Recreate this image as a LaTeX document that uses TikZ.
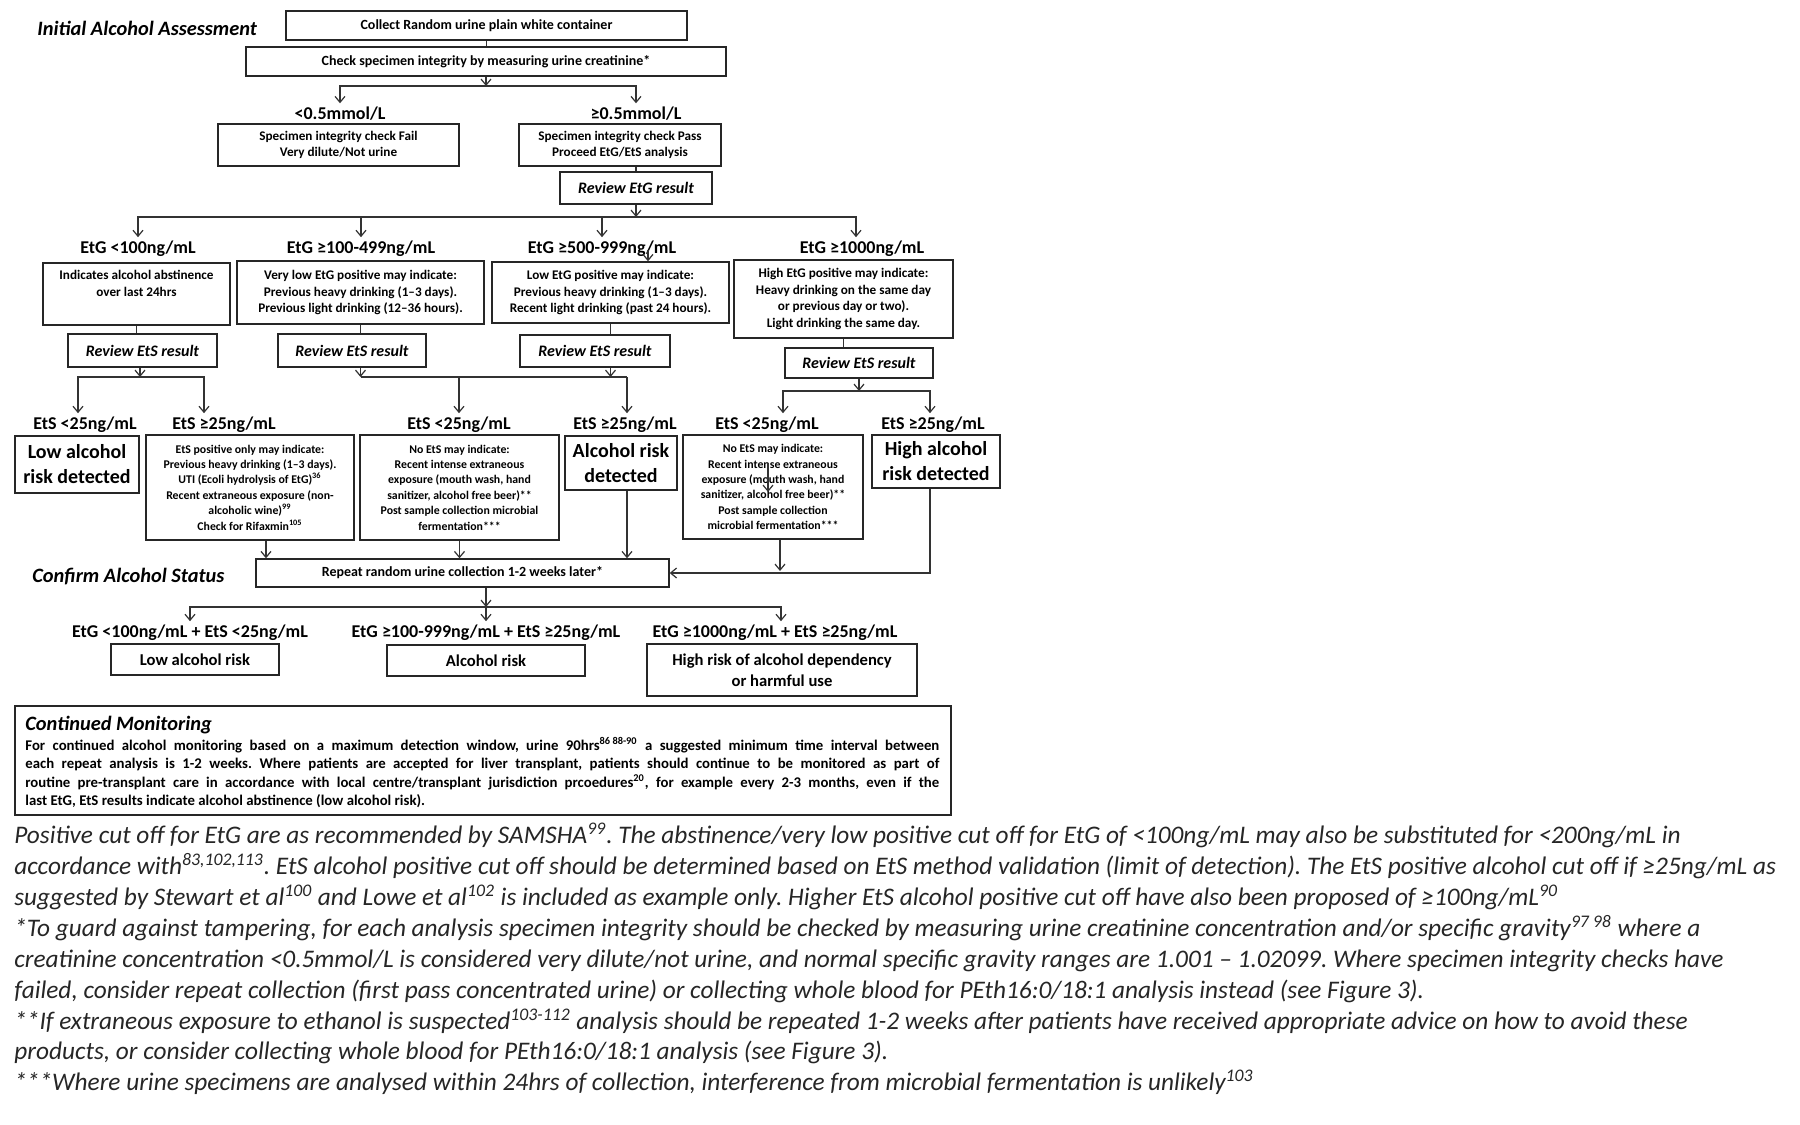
\documentclass[tikz,border=0pt]{standalone}
\usepackage{fontspec}
\setmainfont{Carlito}
\usetikzlibrary{arrows.meta}
\frenchspacing
\newcommand\ftitle{\fontsize{10.2}{12}\selectfont\bfseries\itshape}
\newcommand\fsm{\fontsize{7}{8.5}\selectfont\bfseries}
\newcommand\fxs{\fontsize{6.6}{8.3}\selectfont\bfseries}
\newcommand\fxxs{\fontsize{5.9}{7.7}\selectfont\bfseries}
\newcommand\flab{\fontsize{9}{11}\selectfont\bfseries}
\newcommand\frev{\fontsize{8}{10}\selectfont\bfseries\itshape}
\newcommand\fbig{\fontsize{10}{12.5}\selectfont\bfseries}
\newcommand\fmid{\fontsize{8.3}{10.5}\selectfont\bfseries}
\newcommand\fbody{\fontsize{7.4}{9.2}\selectfont\bfseries}
\newcommand\fnote{\fontsize{12.65}{15.5}\selectfont\itshape}
\tikzset{
  box/.style={draw=black!85, line width=0.7pt, inner sep=1pt, align=center, text=black},
  ln/.style={draw=black!80, line width=0.6pt},
  arr/.style={ln, -{Straight Barb[length=3pt,width=5pt]}},
  lbl/.style={font=\flab, inner sep=0pt, outer sep=2pt},
  sect/.style={font=\ftitle, inner sep=0pt, anchor=west},
  note/.style={font=\fnote, inner sep=0pt, anchor=base west, text=black!85},
}
\begin{document}
\begin{tikzpicture}[x=0.5pt,y=-0.5pt]
\fill[white] (0,0) rectangle (1800,1125);
\useasboundingbox (0,0) rectangle (1800,1125);

% ---------- Initial assessment ----------
\node[sect] (t1) at (37,28) {Initial Alcohol Assessment};
\node[box, font=\fsm, minimum width=200.5pt, minimum height=14.5pt] (b1) at (486.5,25.5) {Collect Random urine plain white container};
\node[box, font=\fsm, minimum width=240pt, minimum height=14.5pt] (b2) at (486,61.5) {Check specimen integrity by measuring urine creatinine*};
\node[lbl] (lowc) at (340,114) {<0.5mmol/L};
\node[lbl] (highc) at (636,114) {≥0.5mmol/L};
\node[box, font=\fxs, minimum width=120.5pt, minimum height=21pt] (fail) at (338.5,145) {Specimen integrity check Fail\\Very dilute/Not urine};
\node[box, font=\fxs, minimum width=101pt, minimum height=21pt] (pass) at (620,145) {Specimen integrity check Pass\\Proceed EtG/EtS analysis};
\node[box, font=\frev, minimum width=76pt, minimum height=16pt] (revg) at (636,188) {Review EtG result};

\coordinate (j1) at (486,86);
\draw[ln] (b1.south) -- (b1.south |- b2.north);
\draw[arr] (b2.south) -- (j1);
\draw[arr] (j1) -| (lowc.north);
\draw[arr] (j1) -| (highc.north);
\draw[ln] (revg.north) -- (revg.north |- pass.south);

% ---------- EtG levels ----------
\coordinate (j2) at (636,217);
\node[lbl] (g1) at (138,249) {EtG <100ng/mL};
\node[lbl] (g2) at (361,249) {EtG ≥100-499ng/mL};
\node[lbl] (g3) at (602,249) {EtG ≥500-999ng/mL};
\node[lbl] (g4) at (862,249) {EtG ≥1000ng/mL};
\draw[arr] (revg.south) -- (j2);
\draw[arr] (j2) -| (g1.north);
\draw[arr] (j2) -| (g2.north);
\draw[arr] (j2) -| (g3.north);
\draw[arr] (j2) -| ([xshift=-3pt]g4.north);

\node[box, font=\fxs, minimum width=93.5pt, minimum height=31pt] (bA) at (136.5,294) {Indicates alcohol abstinence\\over last 24hrs\\\strut};
\node[box, font=\fxs, minimum width=123.5pt, minimum height=31.5pt] (bB) at (360.5,292.5) {Very low EtG positive may indicate:\\Previous heavy drinking (1–3 days).\\Previous light drinking (12–36 hours).};
\node[box, font=\fxs, minimum width=118.5pt, minimum height=30.5pt] (bC) at (610.5,292.5) {Low EtG positive may indicate:\\Previous heavy drinking (1–3 days).\\Recent light drinking (past 24 hours).};
\node[box, font=\fxs, minimum width=109.5pt, minimum height=39pt] (bD) at (843.5,299) {High EtG positive may indicate:\\Heavy drinking on the same day\\or previous day or two).\\Light drinking the same day.};
\coordinate (s1) at (648,250);
\draw[arr] (s1) -- (s1 |- bC.north);

% ---------- Review EtS ----------
\node[box, font=\frev, minimum width=74.5pt, minimum height=16.5pt] (r1) at (142.5,350.5) {Review EtS result};
\node[box, font=\frev, minimum width=74pt, minimum height=16.5pt] (r2) at (352,350.5) {Review EtS result};
\node[box, font=\frev, minimum width=75pt, minimum height=16pt] (r3) at (595,351) {Review EtS result};
\node[box, font=\frev, minimum width=74pt, minimum height=15pt] (r4) at (859,363) {Review EtS result};
\draw[ln] (bA.south) -- (bA.south |- r1.north);
\draw[ln] (bB.south) -- (bB.south |- r2.north);
\draw[ln] (bC.south) -- (bC.south |- r3.north);
\draw[ln] (bD.south) -- (bD.south |- r4.north);

% ---------- EtS levels ----------
\node[lbl] (e1) at (85,425) {EtS <25ng/mL};
\node[lbl] (e2) at (224,425) {EtS ≥25ng/mL};
\node[lbl] (e3) at (459,425) {EtS <25ng/mL};
\node[lbl] (e4) at (625,425) {EtS ≥25ng/mL};
\node[lbl] (e5) at (767,425) {EtS <25ng/mL};
\node[lbl] (e6) at (933,425) {EtS ≥25ng/mL};

\coordinate (j3) at (140,377);
\draw[arr] (j3 |- r1.south) -- (j3);
\draw[arr] (j3) -| ([xshift=-3.5pt]e1.north);
\draw[arr] (j3) -| ([xshift=-10pt]e2.north);

\coordinate (j4) at (360.5,377);
\coordinate (j5) at (627,377);
\draw[arr] (bB.south |- r2.south) -- (j4);
\draw[arr] (bC.south |- r3.south) -- (bC.south |- j4);
\draw[ln] (j4) -- (j5);
\draw[arr] (j5) -- (j5 |- e4.north);
\draw[arr] (e3.north |- j4) -- (e3.north);

\coordinate (j6) at (859,391);
\draw[arr] (r4.south) -- (j6);
\draw[arr] (j6) -| ([xshift=8pt]e5.north);
\draw[arr] (j6) -| ([xshift=-1.5pt]e6.north);

\node[box, font=\fbig, minimum width=62pt, minimum height=28.5pt] (lowr) at (77,464.5) {Low alcohol\\risk detected};
\node[box, font=\fxxs, minimum width=104pt, minimum height=52.5pt] (pos) at (250,487.5) {EtS positive only may indicate:\\Previous heavy drinking (1–3 days).\\UTI (Ecoli hydrolysis of EtG)\textsuperscript{36}\\Recent extraneous exposure (non-\\alcoholic wine)\textsuperscript{99}\\Check for Rifaxmin\textsuperscript{105}};
\node[box, font=\fxxs, minimum width=99.5pt, minimum height=52.5pt] (nom) at (459.5,487.5) {No EtS may indicate:\\Recent intense extraneous\\exposure (mouth wash, hand\\sanitizer, alcohol free beer)**\\Post sample collection microbial\\fermentation***};
\node[box, font=\fbig, minimum width=56pt, minimum height=27pt] (alcr) at (621,463) {Alcohol risk\\detected};
\node[box, font=\fxxs, minimum width=90pt, minimum height=52pt] (nor) at (773,487) {No EtS may indicate:\\Recent intense extraneous\\exposure (mouth wash, hand\\sanitizer, alcohol free beer)**\\Post sample collection\\microbial fermentation***};
\node[box, font=\fbig, minimum width=64pt, minimum height=26.5pt] (highr) at (936,461.5) {High alcohol\\risk detected};
\coordinate (s2) at (768,463);
\coordinate (s2b) at (768,492);
\draw[arr] (s2) -- (s2b);

% ---------- Confirm ----------
\node[sect] (t2) at (32,577) {Confirm Alcohol Status};
\node[box, font=\fsm, minimum width=206.5pt, minimum height=14pt] (rep) at (462.5,573) {Repeat random urine collection 1-2 weeks later*};
\coordinate (j7) at (780,571);
\draw[arr] ([xshift=8pt]pos.south) -- ([xshift=8pt]pos.south |- rep.north);
\draw[arr] (nom.south) -- (nom.south |- rep.north);
\draw[arr] ([xshift=3pt]alcr.south) -- ([xshift=3pt]alcr.south |- rep.north);
\draw[arr] ([xshift=3.5pt]nor.south) -- ([xshift=3.5pt]nor.south |- j7);
\draw[arr] ([xshift=-3pt]highr.south) |- (rep.east);

\coordinate (j8) at (486,607);
\node[lbl] (f1) at (190,633) {EtG <100ng/mL + EtS <25ng/mL};
\node[lbl] (f2) at (486,633) {EtG ≥100-999ng/mL + EtS ≥25ng/mL};
\node[lbl] (f3) at (775,633) {EtG ≥1000ng/mL + EtS ≥25ng/mL};
\draw[arr] (j8 |- rep.south) -- (j8);
\draw[arr] (j8) -| (f1.north);
\draw[arr] (j8) -- (f2.north);
\draw[arr] (j8) -| ([xshift=3pt]f3.north);
\node[box, font=\fmid, minimum width=84pt, minimum height=15.5pt] (lowa) at (195,659.5) {Low alcohol risk};
\node[box, font=\fmid, minimum width=99pt, minimum height=15.5pt] (alca) at (486,660.5) {Alcohol risk};
\node[box, font=\fmid, minimum width=135pt, minimum height=26pt] (higha) at (782,670) {High risk of alcohol dependency\\or harmful use};

% ---------- Continued monitoring ----------
\node[box, minimum width=468pt, minimum height=54.5pt] (cont) at (483,760.5) {};
\node[sect] (t3) at (25,725) {Continued Monitoring};
\node[font=\fbody, text width=457pt, align=justify, inner sep=0pt, anchor=north west] (body) at (25,737) {For continued alcohol monitoring based on a maximum detection window, urine 90hrs\textsuperscript{86 88-90} a suggested minimum time interval between\linebreak each repeat analysis is 1-2 weeks. Where patients are accepted for liver transplant, patients should continue to be monitored as part of\linebreak routine pre-transplant care in accordance with local centre/transplant jurisdiction prcoedures\textsuperscript{20}, for example every 2-3 months, even if the\linebreak last EtG, EtS results indicate alcohol abstinence (low alcohol risk).};

% ---------- Notes ----------
\node[note] (n1) at (14,843) {Positive cut off for EtG are as recommended by SAMSHA\textsuperscript{99}. The abstinence/very low positive cut off for EtG of <100ng/mL may also be substituted for <200ng/mL in};
\node[note] (n2) at (14,874) {accordance with\textsuperscript{83,102,113}. EtS alcohol positive cut off should be determined based on EtS method validation (limit of detection). The EtS positive alcohol cut off if ≥25ng/mL as};
\node[note] (n3) at (14,905) {suggested by Stewart et al\textsuperscript{100} and Lowe et al\textsuperscript{102} is included as example only. Higher EtS alcohol positive cut off have also been proposed of ≥100ng/mL\textsuperscript{90}};
\node[note] (n4) at (14,936) {*To guard against tampering, for each analysis specimen integrity should be checked by measuring urine creatinine concentration and/or specific gravity\textsuperscript{97 98} where a};
\node[note] (n5) at (14,967) {creatinine concentration <0.5mmol/L is considered very dilute/not urine, and normal specific gravity ranges are 1.001 – 1.02099. Where specimen integrity checks have};
\node[note] (n6) at (14,998) {failed, consider repeat collection (first pass concentrated urine) or collecting whole blood for PEth16:0/18:1 analysis instead (see Figure 3).};
\node[note] (n7) at (14,1029) {**If extraneous exposure to ethanol is suspected\textsuperscript{103-112} analysis should be repeated 1-2 weeks after patients have received appropriate advice on how to avoid these};
\node[note] (n8) at (14,1059) {products, or consider collecting whole blood for PEth16:0/18:1 analysis (see Figure 3).};
\node[note] (n9) at (14,1090) {***Where urine specimens are analysed within 24hrs of collection, interference from microbial fermentation is unlikely\textsuperscript{103}};
\end{tikzpicture}
\end{document}
